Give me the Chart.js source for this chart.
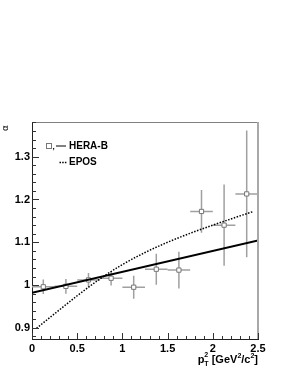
<!DOCTYPE html>
<html>
<head>
<meta charset="utf-8">
<script src="https://cdn.jsdelivr.net/npm/chart.js@4"></script>
<style>
  html, body { margin: 0; padding: 0; background: #fff; }
  #wrap { width: 290px; height: 375px; }
</style>
</head>
<body>
<div id="wrap"><canvas id="alphaChart" width="290" height="375"></canvas></div>
<script>
// HERA-B points (pT^2 bins)
const hbX = [0.125, 0.375, 0.625, 0.875, 1.125, 1.375, 1.625, 1.875, 2.125, 2.375];
const hbY = [0.996, 0.997, 1.012, 1.016, 0.995, 1.037, 1.035, 1.172, 1.140, 1.213];
const hbErrY = [0.017, 0.017, 0.016, 0.017, 0.027, 0.036, 0.043, 0.050, 0.095, 0.148];
const hbErrX = [0.125, 0.125, 0.125, 0.125, 0.125, 0.125, 0.125, 0.125, 0.125, 0.125];

// HERA-B fit (straight line)
const fitX = [0, 2.5];
const fitY = [0.982, 1.104];

// EPOS curve
const eposX = [0.05, 0.25, 0.5, 0.75, 1.0, 1.25, 1.5, 1.75, 2.0, 2.25, 2.45];
const eposY = [0.899, 0.933, 0.975, 1.014, 1.048, 1.076, 1.100, 1.121, 1.140, 1.158, 1.172];

// axes
const xTicks = [0, 0.5, 1, 1.5, 2, 2.5];
const yTicks = [0.9, 1.0, 1.1, 1.2, 1.3];
const xMinorStep = 0.1;
const yMinorStep = 0.02;

const pts = (xs, ys) => xs.map((x, i) => ({ x: x, y: ys[i] }));

// error bars, frame, minor ticks, legend and titles
const rootStyle = {
  id: 'rootStyle',
  beforeDatasetsDraw(chart) {
    const c = chart.ctx;
    const xs = chart.scales.x, ys = chart.scales.y;
    c.save();
    c.strokeStyle = '#a0a0a0';
    c.lineWidth = 1.5;
    hbX.forEach((x, i) => {
      const px = xs.getPixelForValue(x), py = ys.getPixelForValue(hbY[i]);
      c.beginPath();
      c.moveTo(xs.getPixelForValue(x - hbErrX[i]), py);
      c.lineTo(xs.getPixelForValue(x + hbErrX[i]), py);
      c.moveTo(px, ys.getPixelForValue(hbY[i] - hbErrY[i]));
      c.lineTo(px, ys.getPixelForValue(hbY[i] + hbErrY[i]));
      c.stroke();
    });
    c.restore();
  },
  afterDraw(chart) {
    const c = chart.ctx;
    const a = chart.chartArea;
    const xs = chart.scales.x, ys = chart.scales.y;
    c.save();

    // top and right frame
    c.strokeStyle = '#808080';
    c.lineWidth = 1;
    c.beginPath();
    c.moveTo(a.left, a.top + 0.5);
    c.lineTo(a.right, a.top + 0.5);
    c.stroke();
    c.strokeStyle = '#a8a8a8';
    c.lineWidth = 2;
    c.beginPath();
    c.moveTo(a.right, a.top);
    c.lineTo(a.right, a.bottom);
    c.stroke();

    // inward ticks
    c.strokeStyle = '#333';
    c.lineWidth = 1;
    c.beginPath();
    for (let k = 0; k * xMinorStep <= 2.5 + 1e-9; k++) {
      const v = k * xMinorStep;
      const px = Math.round(xs.getPixelForValue(v)) + 0.5;
      const len = (k % 5 === 0) ? 6 : 3;
      c.moveTo(px, a.bottom);
      c.lineTo(px, a.bottom - len);
    }
    for (let k = 0; ; k++) {
      const v = 0.88 + k * yMinorStep;
      if (v > ys.max) break;
      const py = Math.round(ys.getPixelForValue(v)) + 0.5;
      const major = Math.abs(v * 10 - Math.round(v * 10)) < 1e-6;
      c.moveTo(a.left, py);
      c.lineTo(a.left + (major ? 7 : 4), py);
    }
    c.stroke();

    // x title  p_T^2 [GeV^2/c^2]
    c.fillStyle = '#000';
    c.textBaseline = 'alphabetic';
    c.textAlign = 'left';
    const big = 'bold 11px "Liberation Sans", Arial, sans-serif';
    const small = 'bold 7px "Liberation Sans", Arial, sans-serif';
    const parts = [
      ['p', big, 0], ['T', small, 3], ['2', small, -6, true], [' [GeV', big, 0], ['2', small, -5],
      ['/c', big, 0], ['2', small, -5], [']', big, 0]
    ];
    let total = 0;
    let prevW = 0;
    const widths = parts.map(p => { c.font = p[1]; return c.measureText(p[0]).width; });
    parts.forEach((p, i) => { if (!p[3]) total += widths[i]; });
    let tx = a.right - total, base = 363;
    parts.forEach((p, i) => {
      c.font = p[1];
      if (p[3]) {
        c.fillText(p[0], tx - prevW, base + p[2]);
        tx += Math.max(0, widths[i] - prevW);
      } else {
        c.fillText(p[0], tx, base + p[2]);
        tx += widths[i];
      }
      prevW = widths[i];
    });

    // y title alpha
    c.save();
    c.translate(6, 128);
    c.rotate(-Math.PI / 2);
    c.font = '9px "DejaVu Sans", sans-serif';
    c.textAlign = 'center';
    c.textBaseline = 'middle';
    c.fillText('\u03b1', 0, 0);
    c.restore();

    // legend
    c.font = 'bold 10px "Liberation Sans", Arial, sans-serif';
    c.textBaseline = 'middle';
    c.fillStyle = '#fff';
    c.strokeStyle = '#777';
    c.lineWidth = 1;
    c.fillRect(46, 143.5, 5, 5);
    c.strokeRect(46.5, 143.5, 5, 5);
    c.fillStyle = '#000';
    c.font = 'bold 8px "Liberation Sans", Arial, sans-serif';
    c.fillText(',', 52.5, 147);
    c.strokeStyle = '#000';
    c.lineWidth = 1;
    c.beginPath();
    c.moveTo(56, 146);
    c.lineTo(66, 146);
    c.stroke();
    c.lineWidth = 1.5;
    c.setLineDash([1.5, 1.2]);
    c.beginPath();
    c.moveTo(59.5, 162.5);
    c.lineTo(66.5, 162.5);
    c.stroke();
    c.setLineDash([]);
    c.font = 'bold 10px "Liberation Sans", Arial, sans-serif';
    c.fillText('HERA-B', 69, 146);
    c.fillText('EPOS', 69, 162.5);

    c.restore();
  }
};

const ctx = document.getElementById('alphaChart').getContext('2d');
const alphaChart = new Chart(ctx, {
  type: 'scatter',
  data: {
    datasets: [
      {
        label: 'HERA-B fit',
        type: 'line',
        data: pts(fitX, fitY),
        borderColor: '#000',
        borderWidth: 2,
        pointRadius: 0,
        fill: false
      },
      {
        label: 'EPOS',
        type: 'line',
        data: pts(eposX, eposY),
        borderColor: '#000',
        borderWidth: 1.5,
        borderDash: [1.5, 1.5],
        cubicInterpolationMode: 'monotone',
        pointRadius: 0,
        fill: false
      },
      {
        label: 'HERA-B',
        data: pts(hbX, hbY),
        pointStyle: 'rect',
        pointRadius: 3,
        borderColor: '#777',
        backgroundColor: '#fff',
        borderWidth: 1
      }
    ]
  },
  options: {
    responsive: false,
    animation: false,
    events: [],
    layout: { padding: { left: 0, top: 122, right: 32, bottom: 0 } },
    plugins: { legend: { display: false }, tooltip: { enabled: false } },
    scales: {
      x: {
        type: 'linear',
        min: 0,
        max: 2.5,
        afterFit: s => { s.height = 36; },
        afterBuildTicks: s => { s.ticks = xTicks.map(v => ({ value: v })); },
        grid: { display: false, drawTicks: false },
        border: { display: true, color: '#222', width: 1 },
        ticks: {
          padding: 3,
          maxRotation: 0,
          autoSkip: false,
          color: '#000',
          font: { family: '"Liberation Sans", Arial, sans-serif', size: 11, weight: 'bold' },
          callback: v => String(v)
        }
      },
      y: {
        type: 'linear',
        min: 0.874,
        max: 1.381,
        afterFit: s => { s.width = 32; },
        afterBuildTicks: s => { s.ticks = yTicks.map(v => ({ value: v })); },
        grid: { display: false, drawTicks: false },
        border: { display: true, color: '#222', width: 1 },
        ticks: {
          padding: 2,
          autoSkip: false,
          color: '#000',
          font: { family: '"Liberation Sans", Arial, sans-serif', size: 11, weight: 'bold' },
          callback: v => (Math.abs(v - 1) < 1e-9 ? '1' : v.toFixed(1))
        }
      }
    }
  },
  plugins: [rootStyle]
});
</script>
</body>
</html>
